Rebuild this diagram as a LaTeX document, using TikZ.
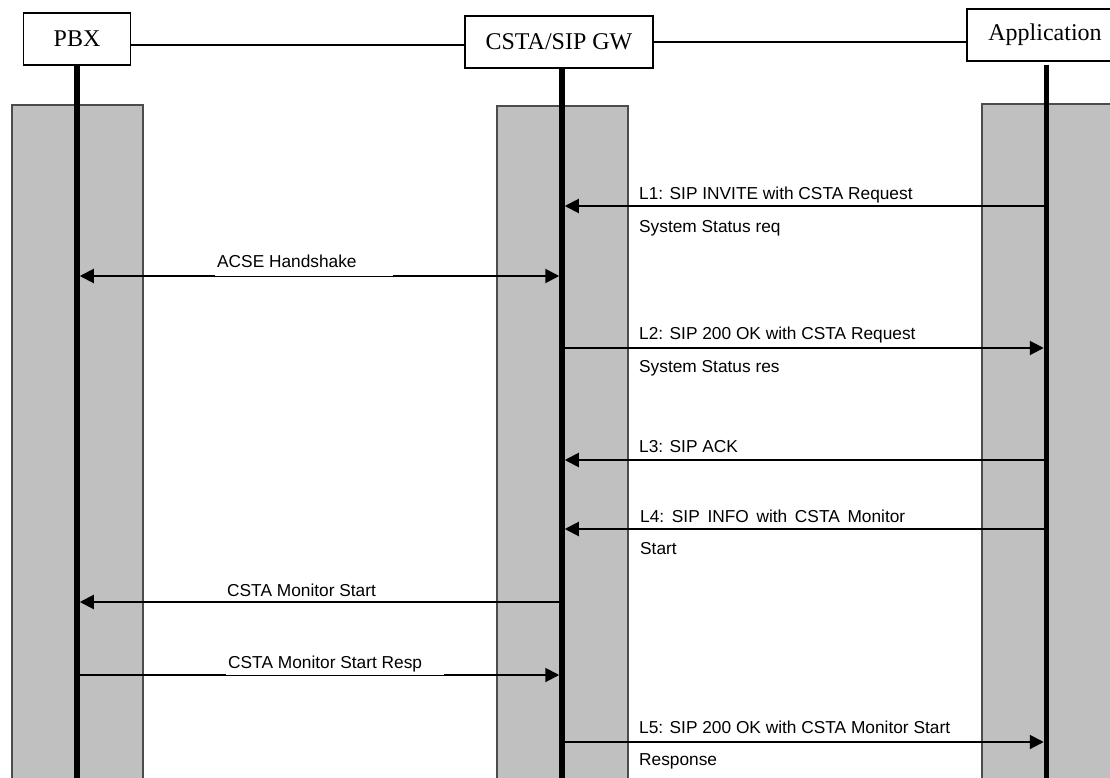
\documentclass[tikz,border=0pt]{standalone}
\usepackage{fontspec}
\setmainfont{Liberation Serif}
\newfontfamily\labelfont{Liberation Sans}
\usetikzlibrary{arrows.meta}
\definecolor{lanegray}{RGB}{192,192,192}
\begin{document}
\begin{tikzpicture}[x=1pt,y=-1pt,
  entity/.style={draw,line width=1.8pt,fill=white,inner sep=0pt,minimum height=52pt,
                 font=\fontsize{24}{27}\selectfont},
  lane/.style={fill=lanegray,draw=black!70,line width=1.2pt},
  lifeline/.style={line width=5.5pt},
  link/.style={line width=1.5pt},
  msg/.style={line width=2pt,-{Triangle[length=14pt,width=14pt]},shorten >=2.75pt},
  lbl/.style={font=\labelfont\fontsize{17.3}{20}\selectfont,inner sep=0pt,anchor=base west},
  gaplbl/.style={lbl,fill=white,inner xsep=2pt,text depth=0pt},
]
\useasboundingbox (0,0) rectangle (1110,778);
\clip (0,0) rectangle (1110,778);

% lanes
\draw[lane] (12,105) rectangle (143,800);
\draw[lane] (497,106) rectangle (628,800);
\draw[lane] (982,104) rectangle (1140,800);

% entities
\node[entity,minimum width=107pt] (pbx) at (77,39) {PBX};
\node[entity,minimum width=188pt] (gw) at (559,42) {CSTA/SIP GW};
\node[entity,minimum width=156pt] (app) at (1045,35) {Application};

\draw[link] ([yshift=-6pt]pbx.east) -- ([yshift=-6pt]pbx.east -| gw.west);
\draw[link] (gw.east) -- (gw.east -| app.west);

% lifeline anchors
\coordinate (pbxl) at (77,0);
\coordinate (gwl) at (562,0);
\coordinate (appl) at (1046.5,0);
\coordinate (pbxend) at (77,800);
\coordinate (gwend) at (562,800);
\coordinate (append) at (1046.5,800);

\draw[lifeline] (pbx.south -| pbxl) -- (pbxend);
\draw[lifeline] (gw.south -| gwl) -- (gwend);
\draw[lifeline] (1046.5,65) -- (append);

% message points
\coordinate (app1) at (1046.5,206); \coordinate (gw1) at (562,206);
\coordinate (pbx2) at (77,276);     \coordinate (gw2) at (562,276);
\coordinate (gw3) at (562,348);     \coordinate (app3) at (1046.5,348);
\coordinate (app4) at (1046.5,460); \coordinate (gw4) at (562,460);
\coordinate (app5) at (1046.5,529); \coordinate (gw5) at (562,529);
\coordinate (gw6) at (562,602);     \coordinate (pbx6) at (77,602);
\coordinate (pbx7) at (77,675);     \coordinate (gw7) at (562,675);
\coordinate (gw8) at (562,742);     \coordinate (app8) at (1046.5,742);

% messages
\draw[msg] (app1) -- (gw1);
\draw[msg,{Triangle[length=14pt,width=14pt]}-{Triangle[length=14pt,width=14pt]},shorten <=2.75pt] (pbx2) -- (gw2);
\draw[msg] (gw3) -- (app3);
\draw[msg] (app4) -- (gw4);
\draw[msg] (app5) -- (gw5);
\draw[msg] (gw6) -- (pbx6);
\draw[msg] (pbx7) -- (gw7);
\draw[msg] (gw8) -- (app8);

% labels
\node[lbl] (t1a) at (639,199) {L1: SIP INVITE with CSTA Request};
\begin{scope}
  \clip (630,212) rectangle (975,235.5);
  \node[lbl] (t1b) at (639,232) {System Status req};
\end{scope}
\node[gaplbl,inner ysep=9.2pt] (t2) at (215,267) {\makebox[174pt][l]{ACSE Handshake}};
\node[lbl] (t3a) at (639,339) {L2: SIP 200 OK with CSTA Request};
\node[lbl] (t3b) at (639,372) {System Status res};
\node[lbl] (t4) at (639,452) {L3: SIP ACK};
\node[lbl] (t5a) at (640,522) {\hbox to 265pt{L4:\hfil SIP\hfil INFO\hfil with\hfil CSTA\hfil Monitor}};
\node[lbl] (t5b) at (640,554) {Start};
\node[lbl] (t6) at (227,596) {CSTA Monitor Start};
\node[gaplbl,inner ysep=7.2pt] (t7) at (226,668) {\makebox[214pt][l]{CSTA Monitor Start Resp}};
\node[lbl] (t8a) at (639,733) {L5: SIP 200 OK with CSTA Monitor Start};
\node[lbl] (t8b) at (639,765) {Response};
\end{tikzpicture}
\end{document}
